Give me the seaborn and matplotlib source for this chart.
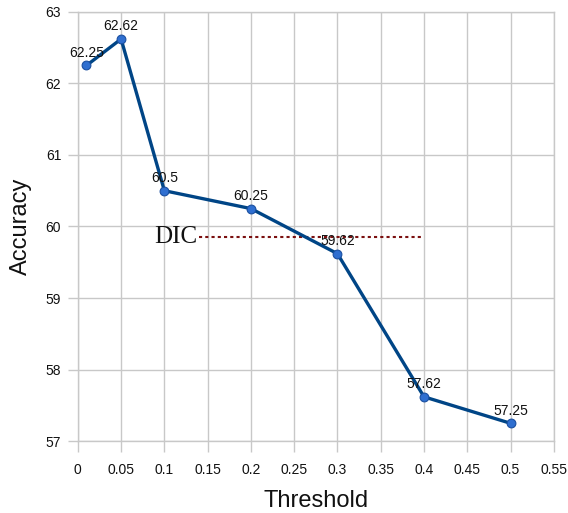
import matplotlib
matplotlib.use("Agg")
import matplotlib.pyplot as plt
import seaborn as sns
import pandas as pd

# Data
thresholds = [0.01, 0.05, 0.1, 0.2, 0.3, 0.4, 0.5]
accuracy = [62.25, 62.62, 60.5, 60.25, 59.62, 57.62, 57.25]
dic_value = 59.86
dic_range = [0.14, 0.4]

x_ticks = [0, 0.05, 0.1, 0.15, 0.2, 0.25, 0.3, 0.35, 0.4, 0.45, 0.5, 0.55]
x_tick_labels = ["0", "0.05", "0.1", "0.15", "0.2", "0.25", "0.3", "0.35", "0.4", "0.45", "0.5", "0.55"]
y_ticks = [57, 58, 59, 60, 61, 62, 63]

df = pd.DataFrame({"Threshold": thresholds, "Accuracy": accuracy})

sns.set_style("whitegrid")
plt.rcParams['font.family'] = ['Liberation Sans', 'DejaVu Sans']

fig = plt.figure(figsize=(5.68, 5.13), dpi=100)
ax = fig.add_axes([0.137, 0.140, 0.838, 0.837])

sns.lineplot(data=df, x="Threshold", y="Accuracy", ax=ax,
             color="#004586", linewidth=2.4, marker="o", markersize=6.3,
             markerfacecolor="#2f6fd0", markeredgecolor="#1a4fa0",
             markeredgewidth=0.8, zorder=3)

# Data labels
for x, y in zip(thresholds, accuracy):
    ax.annotate(f"{y:g}", (x, y), xytext=(0, 4), textcoords="offset points",
                ha="center", va="bottom", fontsize=10, color="#111111")

# DIC reference line
ax.plot(dic_range, [dic_value, dic_value], color="#7b1010", linestyle=(0, (1.5, 1.5)),
        linewidth=1.5, zorder=2)
ax.text(dic_range[0] - 0.002, dic_value, "DIC", ha="right", va="center",
        fontsize=18, family=["Liberation Serif", "DejaVu Serif"], color="#111111")

ax.set_xlim(0, 0.55)
ax.set_ylim(57, 63)
ax.set_xticks(x_ticks)
ax.set_xticklabels(x_tick_labels)
ax.set_yticks(y_ticks)

ax.grid(True, color="#c8c8c8", linewidth=1)
for s in ax.spines.values():
    s.set_color("#c8c8c8")
    s.set_linewidth(1)

ax.tick_params(axis="x", which="both", bottom=True, length=8, width=1,
               color="#c8c8c8", labelsize=10, pad=8, labelcolor="#111111")
ax.tick_params(axis="y", which="both", left=True, length=7, width=1,
               color="#c8c8c8", labelsize=10, pad=5, labelcolor="#111111")

ax.set_xlabel("Threshold", fontsize=17, labelpad=9, color="#111111")
ax.set_ylabel("Accuracy", fontsize=17, labelpad=10, color="#111111")

fig.savefig("out.png", dpi=100)
